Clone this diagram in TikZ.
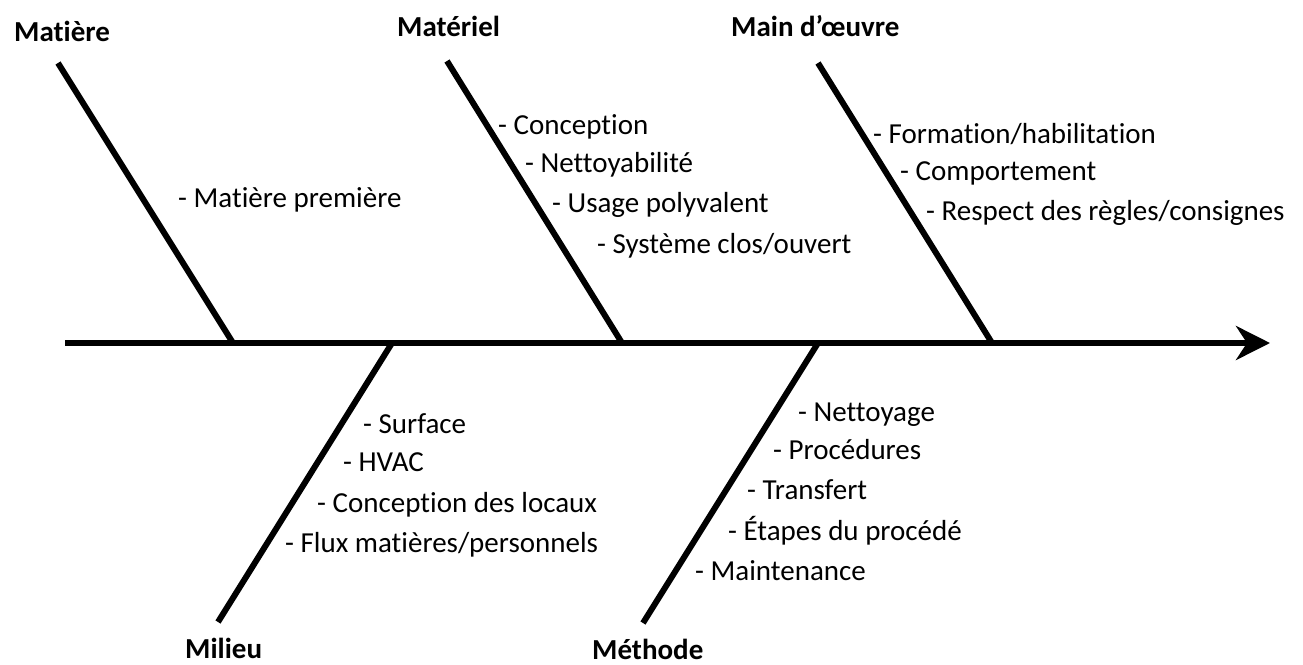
\documentclass[tikz,border=0pt]{standalone}
\usepackage{fontspec}
\setmainfont{Carlito}[Ligatures=NoCommon]
\usetikzlibrary{arrows.meta}
\begin{document}
\begin{tikzpicture}[x=1pt,y=-1pt,
  bone/.style={line width=6pt},
  spine/.style={line width=6pt,-{Stealth[length=34pt,width=34pt,inset=11pt]}},
  cat/.style={anchor=base west,inner sep=0pt,font=\fontsize{29}{35}\selectfont\bfseries},
  item/.style={anchor=base west,inner sep=0pt,font=\fontsize{29}{35}\selectfont}]
\useasboundingbox (0,0) rectangle (1303,664);
% spine
\coordinate (s0) at (65,343);
\coordinate (s1) at (1270,343);
\draw[spine] (s0) -- (s1);
% bones
\coordinate (mat1) at (58,63);   \coordinate (mat2) at (233,343);
\coordinate (mel1) at (447,61);  \coordinate (mel2) at (622,343);
\coordinate (mo1) at (818,63);   \coordinate (mo2) at (992,343);
\coordinate (mil1) at (218,622); \coordinate (mil2) at (392,343);
\coordinate (met1) at (643,623); \coordinate (met2) at (818,343);
\draw[bone] (mat1) -- (mat2);
\draw[bone] (mel1) -- (mel2);
\draw[bone] (mo1) -- (mo2);
\draw[bone] (mil1) -- (mil2);
\draw[bone] (met1) -- (met2);
% categories
\node[cat] (cMatiere) at (14,41) {Matière};
\node[cat] (cMateriel) at (397,36) {Matériel};
\node[cat] (cMain) at (731,36) {Main d’œuvre};
\node[cat] (cMilieu) at (185,658) {Milieu};
\node[cat] (cMethode) at (592,659) {Méthode};
% items
\node[item] (i1) at (178,207) {- Matière première};
\node[item] (i2) at (498,134) {- Conception};
\node[item] (i3) at (525,172) {- Nettoyabilité};
\node[item] (i4) at (552,212) {- Usage polyvalent};
\node[item] (i5) at (597,253) {- Système clos/ouvert};
\node[item] (i6) at (873,143) {- Formation/habilitation};
\node[item] (i7) at (900,180) {- Comportement};
\node[item] (i8) at (926,220) {- Respect des règles/consignes};
\node[item] (i9) at (363,433) {- Surface};
\node[item] (i10) at (343,471) {- HVAC};
\node[item] (i11) at (317,512) {- Conception des locaux};
\node[item] (i12) at (285,552) {- Flux matières/personnels};
\node[item] (i13) at (798,421) {- Nettoyage};
\node[item] (i14) at (773,459) {- Procédures};
\node[item] (i15) at (747,499) {- Transfert};
\node[item] (i16) at (728,540) {- Étapes du procédé};
\node[item] (i17) at (695,580) {- Maintenance};
\end{tikzpicture}
\end{document}
